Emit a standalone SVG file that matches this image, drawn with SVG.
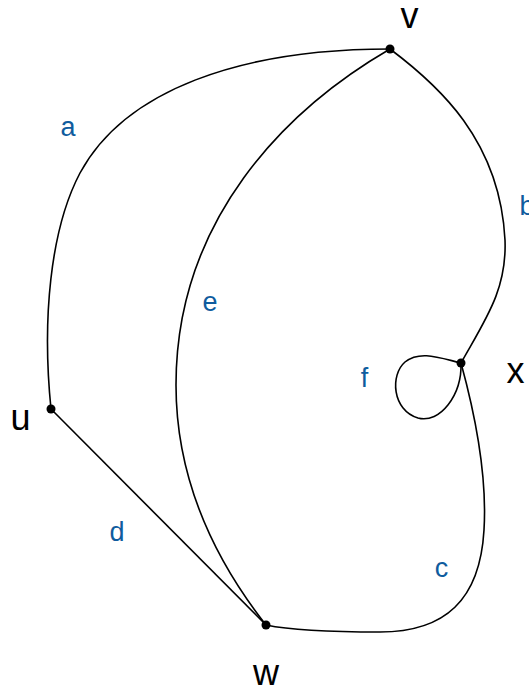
<svg xmlns="http://www.w3.org/2000/svg" width="529" height="691" viewBox="0 0 529 691">
<style>
.edge{fill:none;stroke:#000;stroke-width:1.6}
.dot{fill:#000}
.nl{font-family:"Liberation Sans",Arial,sans-serif;font-size:36px;fill:#000;text-anchor:middle}
.el{font-family:"Liberation Sans",Arial,sans-serif;font-size:27px;fill:#0f5c9e;text-anchor:middle}
</style>
<rect width="529" height="691" fill="#fff"/>
<g id="connectors">
<g id="edge-a"><path class="edge" d="M51,409 C42,320 50,230 80,173 C125,90 240,49 390,49"/><text class="el" x="68" y="136">a</text></g>
<g id="edge-b"><path class="edge" d="M390,49 C438,85 500,140 505,240 C507,290 485,320 461,363"/><text class="el" x="519.5" y="215" style="text-anchor:start">b</text></g>
<g id="edge-c"><path class="edge" d="M461,363 C478,425 487,480 484,530 C480,600 445,632 380,632 C330,632 290,630 266,625"/><text class="el" x="441.5" y="577">c</text></g>
<g id="edge-d"><path class="edge" d="M51,409 L266,625"/><text class="el" x="117" y="541">d</text></g>
<g id="edge-e"><path class="edge" d="M390,49 C285,110 176,220 176,385 C176,480 215,560 266,625"/><text class="el" x="210" y="311">e</text></g>
<g id="edge-f"><path class="edge" d="M461,363 C440,358 420,350 405,362 C390,375 392,410 418,418 C440,424 462,395 461,363"/><text class="el" x="364.5" y="387">f</text></g>
</g>
<g id="node-v"><circle class="dot" cx="390" cy="49" r="4.5"/><text class="nl" x="409.5" y="28">v</text></g>
<g id="node-x"><circle class="dot" cx="461" cy="363" r="4.5"/><text class="nl" x="515.5" y="383">x</text></g>
<g id="node-u"><circle class="dot" cx="51" cy="409" r="4.5"/><text class="nl" x="20.5" y="430">u</text></g>
<g id="node-w"><circle class="dot" cx="266" cy="625" r="4.5"/><text class="nl" x="266" y="685">w</text></g>
</svg>
